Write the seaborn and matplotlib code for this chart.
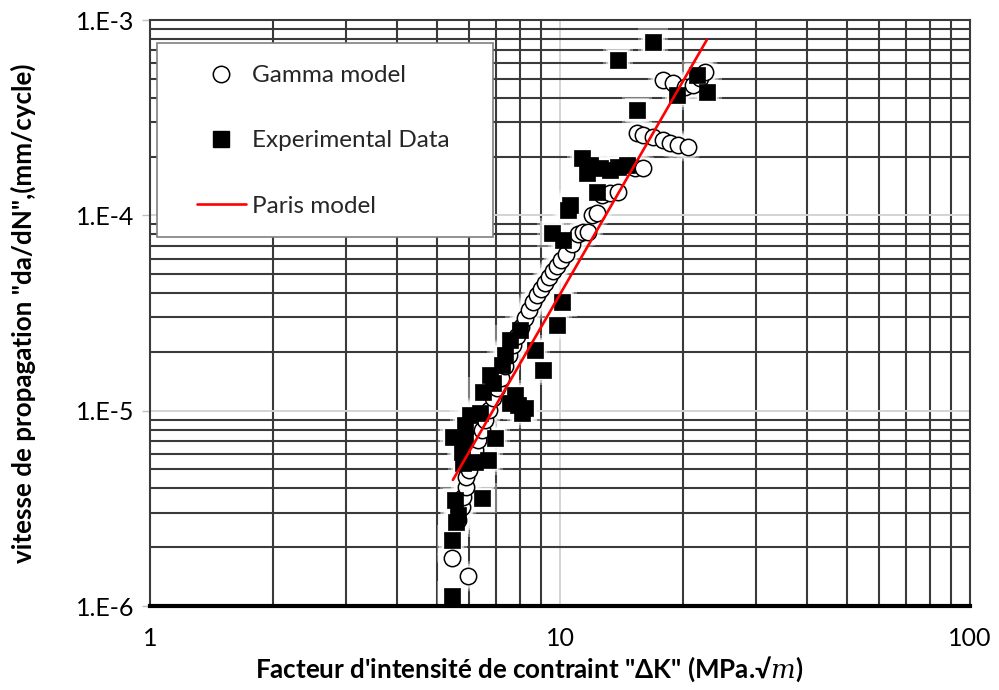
import numpy as np
import pandas as pd
import matplotlib
matplotlib.use("Agg")
import matplotlib.pyplot as plt
import seaborn as sns
from matplotlib.lines import Line2D
from matplotlib.patches import Rectangle
from matplotlib.ticker import FixedLocator, FixedFormatter, LogLocator, NullFormatter

# ---------------- data ----------------
gamma_dK = [5.45, 5.97, 5.64, 5.77, 5.80, 5.90, 5.90, 6.00, 6.10, 6.20,
            6.31, 6.45, 6.56, 6.71, 6.87, 7.02, 7.18, 7.34, 7.51, 7.68,
            7.86, 8.03, 8.21, 8.40, 8.59, 8.79, 8.99, 9.19, 9.40, 9.61,
            9.83, 10.06, 10.34, 10.70, 11.06, 11.38, 11.71, 11.97, 12.31, 12.66,
            13.24, 13.85, 15.24, 15.94, 15.41, 15.94, 16.86, 17.83, 18.55, 19.40,
            20.52, 17.83, 18.86, 20.18, 21.10, 21.95, 22.58]
gamma_dadN = [1.76e-6, 1.42e-6, 2.76e-6, 3.21e-6, 3.61e-6, 4.07e-6, 4.57e-6, 4.97e-6, 5.59e-6, 6.29e-6,
              7.08e-6, 7.96e-6, 8.96e-6, 1.01e-5, 1.16e-5, 1.31e-5, 1.47e-5, 1.69e-5, 1.93e-5, 2.17e-5,
              2.41e-5, 2.68e-5, 2.98e-5, 3.27e-5, 3.60e-5, 3.91e-5, 4.20e-5, 4.50e-5, 4.83e-5, 5.19e-5,
              5.50e-5, 5.91e-5, 6.34e-5, 7.13e-5, 8.02e-5, 8.21e-5, 8.21e-5, 1.00e-4, 1.03e-4, 1.27e-4,
              1.30e-4, 1.32e-4, 1.75e-4, 1.75e-4, 2.64e-4, 2.58e-4, 2.52e-4, 2.43e-4, 2.35e-4, 2.29e-4,
              2.24e-4, 4.93e-4, 4.76e-4, 4.54e-4, 4.65e-4, 5.05e-4, 5.42e-4]

exp_dK = [5.45, 5.45, 5.58, 5.64, 5.55, 6.45, 5.80, 6.20, 6.67, 5.77,
          5.48, 5.87, 6.94, 5.87, 6.03, 6.38, 6.49, 6.87, 7.22, 7.55,
          7.90, 8.21, 8.08, 7.77, 9.09, 8.69, 9.83, 10.11, 7.55, 7.99,
          6.75, 7.34, 9.56, 10.17, 10.58, 10.46, 11.32, 11.84, 11.64, 12.31,
          12.52, 13.24, 13.85, 14.57, 15.41, 13.85, 16.86, 19.29, 21.58, 22.83]
exp_dadN = [1.12e-6, 2.18e-6, 2.69e-6, 2.92e-6, 3.49e-6, 3.57e-6, 5.40e-6, 5.46e-6, 5.59e-6, 6.14e-6,
            7.33e-6, 7.24e-6, 7.24e-6, 8.44e-6, 9.50e-6, 9.73e-6, 1.25e-5, 1.39e-5, 1.71e-5, 1.09e-5,
            1.07e-5, 1.03e-5, 9.73e-6, 1.20e-5, 1.61e-5, 2.04e-5, 2.74e-5, 3.60e-5, 2.30e-5, 2.59e-5,
            1.52e-5, 1.93e-5, 8.12e-5, 7.47e-5, 1.13e-4, 1.065e-4, 1.97e-4, 1.81e-4, 1.65e-4, 1.32e-4,
            1.75e-4, 1.71e-4, 1.77e-4, 1.81e-4, 3.46e-4, 6.24e-4, 7.72e-4, 4.13e-4, 5.23e-4, 4.28e-4]

paris_dK = [5.48, 22.8]
paris_dadN = [4.42e-6, 7.9e-4]

x_ticks = [1, 10, 100]
x_tick_labels = ["1", "10", "100"]
y_ticks = [1e-6, 1e-5, 1e-4, 1e-3]
y_tick_labels = ["1.E-6", "1.E-5", "1.E-4", "1.E-3"]

series_labels = ["Gamma model", "Experimental Data", "Paris model"]
x_label = "Facteur d'intensité de contraint \"ΔK\" (MPa.√$m$)"
y_label = "vitesse de propagation \"da/dN\",(mm/cycle)"

gamma_df = pd.DataFrame({"dK": gamma_dK, "dadN": gamma_dadN})
exp_df = pd.DataFrame({"dK": exp_dK, "dadN": exp_dadN})
paris_df = pd.DataFrame({"dK": paris_dK, "dadN": paris_dadN})

# ---------------- style ----------------
sns.set_theme(style="white")
plt.rcParams['font.family'] = ['Lato', 'DejaVu Sans']
plt.rcParams['mathtext.fontset'] = 'dejavuserif'

W, H = 999, 690
fig = plt.figure(figsize=(W / 100, H / 100), dpi=100)
fig.patch.set_facecolor("white")
ax = fig.add_axes([150 / W, 84 / H, 820 / W, 586 / H])
ax.set_facecolor("white")
ax.set_xscale("log")
ax.set_yscale("log")
ax.set_xlim(1, 100)
ax.set_ylim(1e-6, 1e-3)

# grid: dark minor lines, light major lines
ax.xaxis.set_major_locator(FixedLocator(x_ticks))
ax.xaxis.set_major_formatter(FixedFormatter(x_tick_labels))
ax.yaxis.set_major_locator(FixedLocator(y_ticks))
ax.yaxis.set_major_formatter(FixedFormatter(y_tick_labels))
ax.xaxis.set_minor_locator(LogLocator(base=10, subs=np.arange(2, 10)))
ax.yaxis.set_minor_locator(LogLocator(base=10, subs=np.arange(2, 10)))
ax.xaxis.set_minor_formatter(NullFormatter())
ax.yaxis.set_minor_formatter(NullFormatter())
ax.grid(True, which="minor", color="#3a3a3a", linewidth=1.5)
ax.grid(True, which="major", color="#d4d4d4", linewidth=1.4)
ax.set_axisbelow(True)

ms = 11.8
s_area = ms ** 2

# white glow behind markers
for scale, alpha in [(3.4, 0.35), (2.3, 0.55), (1.5, 0.85)]:
    sns.scatterplot(data=gamma_df, x="dK", y="dadN", ax=ax, marker="o", s=s_area * scale,
                    color="white", edgecolor="none", alpha=alpha, zorder=2, legend=False)
    sns.scatterplot(data=exp_df, x="dK", y="dadN", ax=ax, marker="s", s=s_area * scale,
                    color="white", edgecolor="none", alpha=alpha, zorder=2, legend=False)

sns.scatterplot(data=gamma_df, x="dK", y="dadN", ax=ax, marker="o", s=s_area,
                color="white", edgecolor="black", linewidth=1.1, zorder=3, legend=False)
sns.scatterplot(data=exp_df, x="dK", y="dadN", ax=ax, marker="s", s=s_area,
                color="black", edgecolor="black", linewidth=0.5, zorder=3.5, legend=False)
sns.lineplot(data=paris_df, x="dK", y="dadN", ax=ax, color="#ff0000", linewidth=1.9,
             zorder=4, legend=False)

# spines
for side in ["top", "right", "left"]:
    ax.spines[side].set_color("#3a3a3a")
    ax.spines[side].set_linewidth(1.5)
ax.spines["bottom"].set_color("black")
ax.spines["bottom"].set_linewidth(3)

ax.tick_params(axis="y", which="major", left=True, length=6, width=1, color="#bfbfbf",
               direction="out", pad=5, labelsize=18, labelcolor="black")
ax.tick_params(axis="x", which="major", bottom=False, length=0, pad=15, labelsize=18,
               labelcolor="black")
ax.tick_params(which="minor", length=0, left=False, bottom=False)

ax.set_xlabel(x_label, fontsize=18.7, fontweight="bold", color="black")
ax.set_ylabel(y_label, fontsize=18.7, fontweight="bold", color="black")
ax.xaxis.set_label_coords((529 - 150) / 820, -(654 - 606) / 586)
ax.yaxis.set_label_coords((36 - 150) / 820, 0.5)

# legend box and entries
box = Rectangle((157 / W, 1 - 237 / H), (493 - 157) / W, (237 - 43) / H,
                transform=fig.transFigure, facecolor="white", edgecolor="#7f7f7f",
                linewidth=1.2, zorder=5)
ax.add_patch(box)
handles = [
    Line2D([], [], ls="", marker="o", ms=ms, mfc="white", mec="black", mew=1.1),
    Line2D([], [], ls="", marker="s", ms=ms, mfc="black", mec="black"),
    Line2D([], [], color="#ff0000", lw=1.9),
]
leg = ax.legend(handles, series_labels, loc="upper left",
                bbox_to_anchor=(197 / W, 1 - 65 / H), bbox_transform=fig.transFigure,
                frameon=False, borderpad=0, borderaxespad=0, handlelength=2.0,
                handletextpad=0.25, labelspacing=1.82, fontsize=17.5)
leg.set_zorder(6)

fig.savefig("out.png", dpi=100, facecolor="white")
